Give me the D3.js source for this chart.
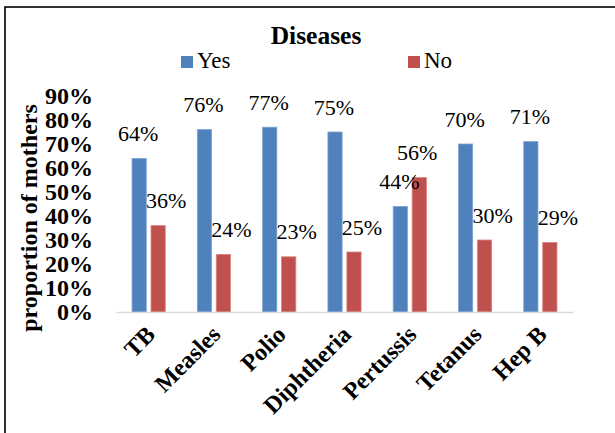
<!DOCTYPE html>
<html>
<head>
<meta charset="utf-8">
<script src="https://cdn.jsdelivr.net/npm/d3@7/dist/d3.min.js"></script>
<style>
  html, body { margin: 0; padding: 0; background: #fff; }
  svg { display: block; }
  text { font-family: "Liberation Serif", "Times New Roman", serif; }
</style>
</head>
<body>
<svg id="chart" width="615" height="433"></svg>
<script>
// Vaccination awareness by disease
const categories = ["TB", "Measles", "Polio", "Diphtheria", "Pertussis", "Tetanus", "Hep B"];
const seriesNames = ["Yes", "No"];
const yesValues = [0.64, 0.76, 0.77, 0.75, 0.44, 0.70, 0.71];
const noValues  = [0.36, 0.24, 0.23, 0.25, 0.56, 0.30, 0.29];
const yTicks = [0, 0.1, 0.2, 0.3, 0.4, 0.5, 0.6, 0.7, 0.8, 0.9];
const colors = { Yes: "#4F81BD", No: "#C0504D" };
const strokes = { Yes: "#7FA3D1", No: "#D88582" };

const serif = "Liberation Serif, Times New Roman, serif";
const svg = d3.select("#chart");

// outer frame (runs past the right and bottom edges)
svg.append("rect")
  .attr("x", 5).attr("y", 7)
  .attr("width", 640).attr("height", 460)
  .attr("fill", "none").attr("stroke", "#000").attr("stroke-width", 1.6);

const plot = { left: 116, right: 573, top: 96, bottom: 312 };

const x0 = d3.scaleBand().domain(categories).range([plot.left, plot.right]).padding(0);
const step = x0.step();
const x1 = d3.scaleBand().domain(seriesNames)
  .range([step / 2 - 16.6, step / 2 + 16.6]).paddingInner(0.25).paddingOuter(0);
const y = d3.scaleLinear().domain([0, 0.9]).range([plot.bottom, plot.top]);

const rows = categories.map((c, i) => ({ cat: c, Yes: yesValues[i], No: noValues[i] }));

// bars
const groups = svg.append("g").selectAll("g").data(rows).join("g")
  .attr("transform", d => `translate(${x0(d.cat)},0)`);

groups.selectAll("rect")
  .data(d => seriesNames.map(k => ({ key: k, value: d[k] })))
  .join("rect")
  .attr("x", d => x1(d.key))
  .attr("width", x1.bandwidth())
  .attr("y", d => y(d.value))
  .attr("height", d => y(0) - y(d.value))
  .attr("fill", d => colors[d.key])
  .attr("stroke", d => strokes[d.key])
  .attr("stroke-width", 0.8);

// value labels
groups.selectAll("text.val")
  .data(d => seriesNames.map(k => ({ key: k, value: d[k], other: d[k === "Yes" ? "No" : "Yes"] })))
  .join("text")
  .attr("class", "val")
  .attr("x", d => x1(d.key) + x1.bandwidth() / 2 + (d.key === "Yes" ? -1 : (d.value > d.other ? -2 : 8)))
  .attr("y", d => y(d.value) - 17.5)
  .attr("text-anchor", "middle")
  .attr("font-family", serif)
  .attr("font-size", 22)
  .attr("fill", "#000")
  .text(d => d3.format(".0%")(d.value));

// category axis
const xAxis = svg.append("g")
  .attr("transform", `translate(0,${plot.bottom})`)
  .call(d3.axisBottom(x0).tickSize(0).tickSizeOuter(0).tickPadding(0));
xAxis.select(".domain").attr("stroke", "#D9D9D9").attr("stroke-width", 1.6);
xAxis.selectAll(".tick text")
  .attr("font-family", serif)
  .attr("font-size", 24)
  .attr("font-weight", "bold")
  .attr("fill", "#000")
  .attr("text-anchor", "end")
  .attr("dy", 0)
  .attr("transform", "translate(8,24) rotate(-45)");

// value axis
const yAxis = svg.append("g")
  .attr("transform", `translate(${plot.left},0)`)
  .call(d3.axisLeft(y).tickValues(yTicks).tickFormat(d3.format(".0%")).tickSize(0).tickPadding(23));
yAxis.select(".domain").remove();
yAxis.selectAll(".tick text")
  .attr("font-family", serif)
  .attr("font-size", 24)
  .attr("font-weight", "bold")
  .attr("fill", "#000");

// axis title
svg.append("text")
  .attr("transform", "translate(37,218) rotate(-90)")
  .attr("text-anchor", "middle")
  .attr("font-family", serif)
  .attr("font-size", 24)
  .attr("font-weight", "bold")
  .text("proportion of mothers");

// chart title
svg.append("text")
  .attr("x", 316).attr("y", 43.5)
  .attr("text-anchor", "middle")
  .attr("font-family", serif)
  .attr("font-size", 25.5)
  .attr("font-weight", "bold")
  .text("Diseases");

// legend
const legendX = { Yes: 181, No: 408 };
const legend = svg.append("g").selectAll("g").data(seriesNames).join("g")
  .attr("transform", d => `translate(${legendX[d]},56)`);
legend.append("rect").attr("width", 12).attr("height", 12).attr("fill", d => colors[d]);
legend.append("text").attr("x", 16).attr("y", 12.3)
  .attr("font-family", serif).attr("font-size", 23).text(d => d);
</script>
</body>
</html>
